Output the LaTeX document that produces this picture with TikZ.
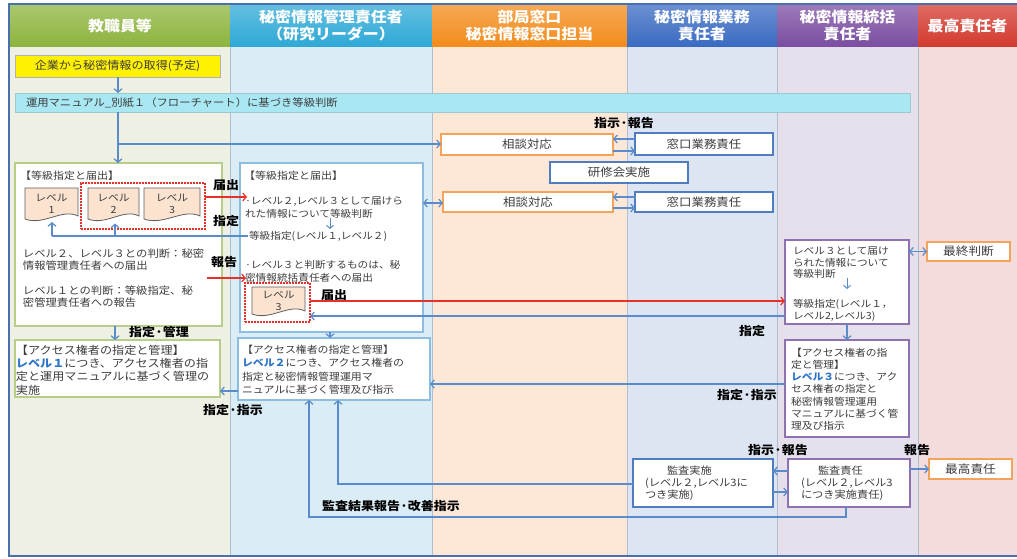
\documentclass[tikz,border=0pt]{standalone}
\usepackage{fontspec}
\setmainfont{Noto Sans CJK JP}[FakeStretch=1.1]
\usetikzlibrary{arrows.meta,fit,calc}
\definecolor{hgreen}{HTML}{8DB43E}
\definecolor{hcyan}{HTML}{2FA9D6}
\definecolor{horange}{HTML}{F28C1C}
\definecolor{hblue}{HTML}{3A6BC2}
\definecolor{hpurple}{HTML}{7B4EA1}
\definecolor{hred}{HTML}{D33A2E}
\definecolor{bgA}{HTML}{EDF0E2}
\definecolor{bgB}{HTML}{DAEDF6}
\definecolor{bgC}{HTML}{FDE8D8}
\definecolor{bgD}{HTML}{DCE5F1}
\definecolor{bgE}{HTML}{E6E0EC}
\definecolor{bgF}{HTML}{F3DCDB}
\definecolor{cblue}{HTML}{5A8CCB}
\definecolor{cred}{HTML}{E8302A}
\definecolor{bxgreen}{HTML}{B6CE8A}
\definecolor{bxblue}{HTML}{8DBDE0}
\definecolor{bxorange}{HTML}{F5A35A}
\definecolor{bxpurple}{HTML}{8E71B0}
\definecolor{bxdblue}{HTML}{4F7DC0}
\definecolor{docfill}{HTML}{FBE3D0}
\definecolor{cyanbox}{HTML}{A9E7F2}
\definecolor{lvtext}{HTML}{2E74C8}
\definecolor{txt}{HTML}{3C3C3C}
\definecolor{sepcol}{HTML}{B0BED0}
\definecolor{framecol}{HTML}{4A6FAE}
\tikzset{
  every node/.style={inner sep=0pt, outer sep=0pt, text=txt},
  body/.style={font=\fontsize{10}{13}\selectfont, align=left, anchor=north west},
  ctext/.style={font=\fontsize{11.3}{13}\selectfont},
  lbl/.style={font=\fontsize{11.8}{14}\selectfont\bfseries, text=black},
  head/.style={font=\fontsize{14.5}{16.5}\selectfont\bfseries, text=white, align=center},
  arr/.style={draw=cblue, line width=1.2pt, -{Straight Barb[length=3.5pt,width=8pt]}},
  darr/.style={draw=cblue, line width=1.2pt, {Straight Barb[length=3.5pt,width=8pt]}-{Straight Barb[length=3.5pt,width=8pt]}},
  plainline/.style={draw=cblue, line width=1.2pt},
  rarr/.style={draw=cred, line width=1.2pt, -{Straight Barb[length=3.5pt,width=8pt]}},
  sarr/.style={draw=cblue, line width=1pt, -{Straight Barb[length=3pt,width=7pt]}},
  reddot/.style={draw=cred, line width=1.8pt, dash pattern=on 1.8pt off 1.2pt},
  wbox/.style={draw=#1, fill=white, line width=1.1pt},
}
\newcommand\lvdoc[6]{%
  \draw[draw=gray!75!black, fill=docfill, line width=0.8pt] (#2,#3) -- (#4,#3) -- (#4,{#5-5})
    .. controls ({#4-(#4-#2)*0.3},{#5-13}) and ({#2+(#4-#2)*0.35},{#5+5}) .. (#2,{#5-2}) -- cycle;
  \node[font=\fontsize{9.8}{12}\selectfont, align=center] (#1) at ({(#2+#4)/2},{(#3+#5)/2-1}) {レベル\\#6};
}
\begin{document}
\begin{tikzpicture}[x=1pt,y=-1pt]
\useasboundingbox (0,0) rectangle (1017,558);
\fill[white] (0,0) rectangle (1017,558);
% column backgrounds
\fill[bgA] (10,46) rectangle (230,556);
\fill[bgB] (230,46) rectangle (432,556);
\fill[bgC] (432,46) rectangle (627,556);
\fill[bgD] (627,46) rectangle (777,556);
\fill[bgE] (777,46) rectangle (918,556);
\fill[bgF] (918,46) rectangle (1017,556);
\foreach \xx in {230,432,627,777,918} \draw[sepcol, line width=0.8pt] (\xx,46) -- (\xx,556);
% headers
\node[fit={(10,5)(230,46)}, top color=hgreen!75!white, bottom color=hgreen, label={[head]center:教職員等}] (h1) {};
\node[fit={(230,5)(432,46)}, top color=hcyan!75!white, bottom color=hcyan, label={[head]center:秘密情報管理責任者\\（研究リーダー）}] (h2) {};
\node[fit={(432,5)(627,46)}, top color=horange!75!white, bottom color=horange, label={[head]center:部局窓口\\秘密情報窓口担当}] (h3) {};
\node[fit={(627,5)(777,46)}, top color=hblue!75!white, bottom color=hblue, label={[head]center:秘密情報業務\\責任者}] (h4) {};
\node[fit={(777,5)(918,46)}, top color=hpurple!75!white, bottom color=hpurple, label={[head]center:秘密情報統括\\責任者}] (h5) {};
\node[fit={(918,5)(1017,46)}, top color=hred!75!white, bottom color=hred, label={[head]center:最高責任者}] (h6) {};
\draw[framecol, line width=1.6pt] (1017,556) -- (9,556) -- (9,4) -- (1017,4);

% top boxes
\node[fit={(15,55)(220,77)}, draw=gray!60, fill=yellow, line width=0.8pt, label={[font=\fontsize{11}{13}\selectfont]center:企業から秘密情報の取得(予定)}] (src) {};
\node[fit={(15,93)(910,112)}, draw=cyanbox!70!gray, fill=cyanbox, line width=0.8pt] (man) {};
\node[anchor=west, font=\fontsize{10.3}{13}\selectfont] (mant) at (26,103) {運用マニュアル\_別紙１（フローチャート）に基づき等級判断};
\draw[arr] (src.south -| 118,0) -- (man.north -| 118,0);

% column 3/4 boxes
\node[fit={(441,134)(613,155)}, wbox=bxorange, label={[ctext]center:相談対応}] (sd1) {};
\node[fit={(635,133)(773,155)}, wbox=bxdblue, label={[ctext]center:窓口業務責任}] (md1) {};
\node[fit={(550,162)(688,183)}, wbox=bxdblue, label={[ctext]center:研修会実施}] (ken) {};
\node[fit={(443,192)(613,212)}, wbox=bxorange, label={[ctext]center:相談対応}] (sd2) {};
\node[fit={(635,192)(773,212)}, wbox=bxdblue, label={[ctext]center:窓口業務責任}] (md2) {};
\node[lbl] (lsh) at (624,123) {指示·報告};
\draw[arr] (md1.west |- 0,139) -- (sd1.east |- 0,139);
\draw[arr] (sd1.east |- 0,151) -- (md1.west |- 0,151);
\draw[arr] (md2.west |- 0,197) -- (sd2.east |- 0,197);
\draw[arr] (sd2.east |- 0,208) -- (md2.west |- 0,208);

% column 1 level box
\node[fit={(15,163)(222,326)}, wbox=bxgreen] (lvA) {};
\node[body] (lvAt) at (20,171) {【等級指定と届出】};
\lvdoc{d1}{25}{188}{78}{221}{1}
\lvdoc{d2}{88}{188}{139}{221}{2}
\lvdoc{d3}{144}{188}{200}{221}{3}
\node[fit={(81,183)(205,229)}, reddot] (rdA) {};
\node[body, font=\fontsize{10.3}{12}\selectfont] (tA1) at (23,249) {レベル２、レベル３との判断：秘密\\情報管理責任者への届出};
\node[body, font=\fontsize{10.3}{12}\selectfont] (tA2) at (23,286) {レベル１との判断：等級指定、秘\\密管理責任者への報告};

% column 2 level box
\node[fit={(240,163)(423,332)}, wbox=bxblue] (lvB) {};
\node[body] (lvBt) at (244,171) {【等級指定と届出】};
\node[body, font=\fontsize{9.7}{13}\selectfont] (tB1) at (245,197) {·レベル２,レベル３として届けら\\れた情報について等級判断};
\node[body, font=\fontsize{9.7}{13}\selectfont] (tB2) at (249,231) {等級指定(レベル１,レベル２)};
\node[body, font=\fontsize{9.7}{13}\selectfont] (tB3) at (245,260) {·レベル３と判断するものは、秘\\密情報統括責任者への届出};
\lvdoc{d4}{252}{287}{305}{316}{3}
\node[fit={(245,283)(310,322)}, reddot] (rdB) {};
\draw[sarr] (330,218) -- (330,229);

% labels near col1/col2
\node[lbl] (lt1) at (226,185) {届出};
\node[lbl] (lt2) at (226,221) {指定};
\node[lbl] (lt3) at (224,262) {報告};
\node[lbl] (lt4) at (334,295) {届出};

% connectors col1/col2
\coordinate (br) at (118,144);
\draw[arr] (man.south -| br) -- (lvA.north -| br);
\draw[arr] (br) -- (sd1.west |- br);
\draw[darr] (lvB.east |- 0,203) -- (sd2.west |- 0,203);
\draw[rarr] (rdA.east |- 0,197) -- (247,197);
\draw[rarr] (207,278) -- (246,278);
\draw[plainline] (248,236) -- (52,236);
\draw[arr] (52,236) -- (52,222);
\draw[arr] (115,236) -- (115,223.5);

% column 5 boxes
\node[fit={(785,240)(909,324)}, wbox=bxpurple] (jdE) {};
\node[body, font=\fontsize{9.7}{11.5}\selectfont] (tE1) at (793,247) {レベル３として届け\\られた情報について\\等級判断};
\draw[sarr] (847,278) -- (847,289);
\node[body, font=\fontsize{9.7}{12}\selectfont] (tE2) at (793,299) {等級指定(レベル１，\\レベル2,レベル3)};
\node[fit={(927,242)(1010,261)}, wbox=bxorange, label={[font=\fontsize{11.5}{13}\selectfont]center:最終判断}] (fin) {};
\draw[darr] (jdE.east |- fin) -- (fin.west);
\draw[rarr] (rdB.east |- 0,301) -- (jdE.west |- 0,301);
\draw[arr] (jdE.west |- 0,316) -- (rdB.east |- 0,316);
\node[lbl] (lt5) at (752,331) {指定};

% access boxes
\node[fit={(15,340)(220,397)}, wbox=bxgreen] (acA) {};
\node[body, font=\fontsize{11}{13.3}\selectfont] (tacA) at (16,345) {【アクセス権者の指定と管理】\\{\color{lvtext}\bfseries レベル１}につき、アクセス権者の指\\定と運用マニュアルに基づく管理の\\実施};
\node[fit={(238,338)(430,400)}, wbox=bxblue] (acB) {};
\node[body, font=\fontsize{9.9}{13.5}\selectfont] (tacB) at (242,345) {【アクセス権者の指定と管理】\\{\color{lvtext}\bfseries レベル２}につき、アクセス権者の\\指定と秘密情報管理運用マ\\ニュアルに基づく管理及び指示};
\node[fit={(785,340)(909,437)}, wbox=bxpurple] (acE) {};
\node[body, font=\fontsize{9.8}{12.2}\selectfont] (tacE) at (791,348) {【アクセス権者の指\\定と管理】\\{\color{lvtext}\bfseries レベル３}につき、アク\\セス権者の指定と\\秘密情報管理運用\\マニュアルに基づく管\\理及び指示};

\draw[arr] (lvA.south -| 115,0) -- (acA.north -| 115,0);
\node[lbl] (lt6) at (159,332) {指定·管理};
\draw[arr] (lvB.south -| 330,0) -- (acB.north -| 330,0);
\draw[arr] (acB.west |- 0,391) -- (acA.east |- 0,391);
\node[lbl] (lt7) at (233,410) {指定·指示};
\draw[arr] (jdE.south -| 847,0) -- (acE.north -| 847,0);
\draw[arr] (acE.west |- 0,384) -- (acB.east |- 0,384);
\node[lbl] (lt8) at (747,395) {指定·指示};

% audit
\node[fit={(633,459)(773,507)}, wbox=bxdblue] (kj) {};
\node[body, font=\fontsize{10.2}{12}\selectfont] (tkj) at (645,465.5) {\hspace*{22pt}監査実施\\(レベル２,レベル3に\\つき実施)};
\node[fit={(788,459)(910,507)}, wbox=bxpurple, line width=1.5pt] (ks) {};
\node[body, font=\fontsize{10.2}{12}\selectfont] (tks) at (801,465.5) {\hspace*{17pt}監査責任\\(レベル２,レベル3\\につき実施責任)};
\node[fit={(929,459)(1012,479)}, wbox=bxorange, label={[font=\fontsize{11.5}{13}\selectfont]center:最高責任}] (sai) {};
\node[lbl] (lt9) at (778,450) {指示·報告};
\node[lbl] (lt10) at (917,450) {報告};
\draw[arr] (ks.west |- 0,471) -- (kj.east |- 0,471);
\draw[arr] (kj.east |- 0,492) -- (ks.west |- 0,492);
\draw[arr] (ks.east |- sai) -- (sai.west);
\draw[arr] (kj.west |- 0,484) -- (338,484) -- (acB.south -| 338,0);
\draw[arr] (ks.south -| 846,0) -- (846,517) -- (309,517) -- (acB.south -| 309,0);
\node[lbl] (lt11) at (391,506) {監査結果報告·改善指示};
\end{tikzpicture}
\end{document}
